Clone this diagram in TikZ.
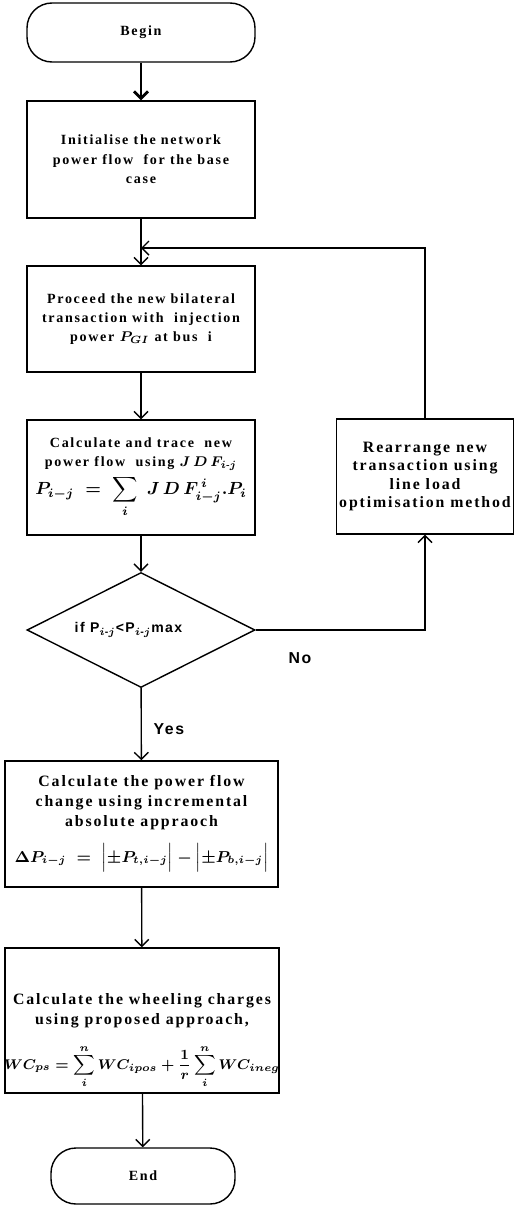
\documentclass[tikz,border=0pt]{standalone}
\usepackage{amsmath}
\usepackage{fontspec}
\setmainfont{Liberation Serif}
\newfontfamily\flowfont{Liberation Serif}[LetterSpace=12]
\newfontfamily\answerfont{Liberation Sans}[LetterSpace=10]
\usetikzlibrary{arrows.meta, shapes.geometric}

\tikzset{
    process/.style={draw, line width=0.8pt, inner sep=0pt, align=center,
        font=\flowfont\bfseries\fontsize{8}{11}\selectfont},
    largeprocess/.style={process, font=\flowfont\bfseries\fontsize{9}{11.3}\selectfont},
    terminal/.style={process, rounded corners=0.5cm},
    decision/.style={draw, diamond, line width=0.8pt, inner sep=0pt, aspect=2,
        minimum width=4.56cm, minimum height=2.3cm,
        font=\answerfont\bfseries\fontsize{8}{10}\selectfont},
    answer/.style={font=\answerfont\bfseries\fontsize{9}{10}\selectfont},
    flow/.style={line width=0.8pt, -{Straight Barb[length=1.4mm, width=2.8mm]}}
}
\newcommand{\formula}[2][10]{{\fontsize{#1}{12}\selectfont$\displaystyle #2$}}

\begin{document}
\boldmath
\begin{tikzpicture}
    \useasboundingbox (0, 0) rectangle (10.28, -24.1);
    % Start
    \node[terminal, minimum width=4.56cm, minimum height=1.18cm] (begin) at (2.82, -0.65) {Begin};
    % Base case
    \node[process, minimum width=4.56cm, minimum height=2.34cm] (init) at (2.82, -3.19)
        {Initialise the network\\power flow~~for the base\\case};
    % New bilateral transaction
    \node[process, minimum width=4.56cm, minimum height=2.12cm] (proceed) at (2.82, -6.38)
        {Proceed the new bilateral\\transaction with~~injection\\power $P_{GI}$ at bus~~i};
    % Trace the flows
    \node[process, minimum width=4.56cm, minimum height=2.3cm] (trace) at (2.82, -9.55)
        {Calculate and trace~~new\\power flow~~using $J\,D\,F_{i\text{-}j}$\\[2pt]
        \formula{P_{i-j}\;=\;\sum_{i}\;J\,D\,F^{\,i}_{i-j}.P_i}};
    % Rearranging
    \node[process, minimum width=3.54cm, minimum height=2.3cm,
        font=\flowfont\bfseries\fontsize{9}{10.5}\selectfont] (rearr) at (8.5, -9.53)
        {Rearrange new\\transaction using\\line load\\optimisation method};
    % Line limit check
    \node[decision] (check) at (2.82, -12.6)
        {if P$_{i\text{-}j}$<P$_{i\text{-}j}$max\hspace*{0.5cm}};
    % Change of flow
    \node[largeprocess, minimum width=5.46cm, minimum height=2.52cm] (change) at (2.83, -16.48)
        {Calculate the power flow\\change using incremental\\absolute appraoch\\[7pt]
        \formula[9.2]{\Delta P_{i-j}\;=\;\Bigl|\pm P_{t,i-j}\Bigr|-\Bigl|\pm P_{b,i-j}\Bigr|}};
    % Wheeling charges (text sits low in the box)
    \node[largeprocess, minimum width=5.48cm, minimum height=2.9cm] (charges) at (2.84, -20.41) {};
    \node[largeprocess, draw=none, anchor=north] (chargestext) at ([yshift=-0.92cm]charges.north)
        {Calculate the wheeling charges\\using proposed approach,\\[0.3cm]
        \formula[8.2]{WC_{ps}=\sum_{i}^{n}WC_{ipos}+\frac{1}{r}\sum_{i}^{n}WC_{ineg}}};
    % Stop
    \node[terminal, minimum width=3.68cm, minimum height=1.12cm] (end) at (2.86, -23.52) {End};

    % Answers
    \node[answer] (no) at (6.0, -13.16) {No};
    \node[answer, anchor=west] (yes) at (2.95, -14.58) {Yes};

    % Main flow
    \draw[flow, line width=1.6pt] (begin) -- (init);
    \draw[flow] (init) -- (proceed);
    \draw[flow] (proceed) -- (trace);
    \draw[flow] (trace) -- (check);
    \draw[flow] (check) -- (change);
    \draw[flow] (change) -- (charges);
    \draw[flow] (charges) -- (end);
    % Loop back
    \coordinate (join) at (init.south |- 0, -4.96);
    \draw[flow] (check.east) -| (rearr.south);
    \draw[flow] (rearr.north) |- (join);
\end{tikzpicture}
\end{document}
